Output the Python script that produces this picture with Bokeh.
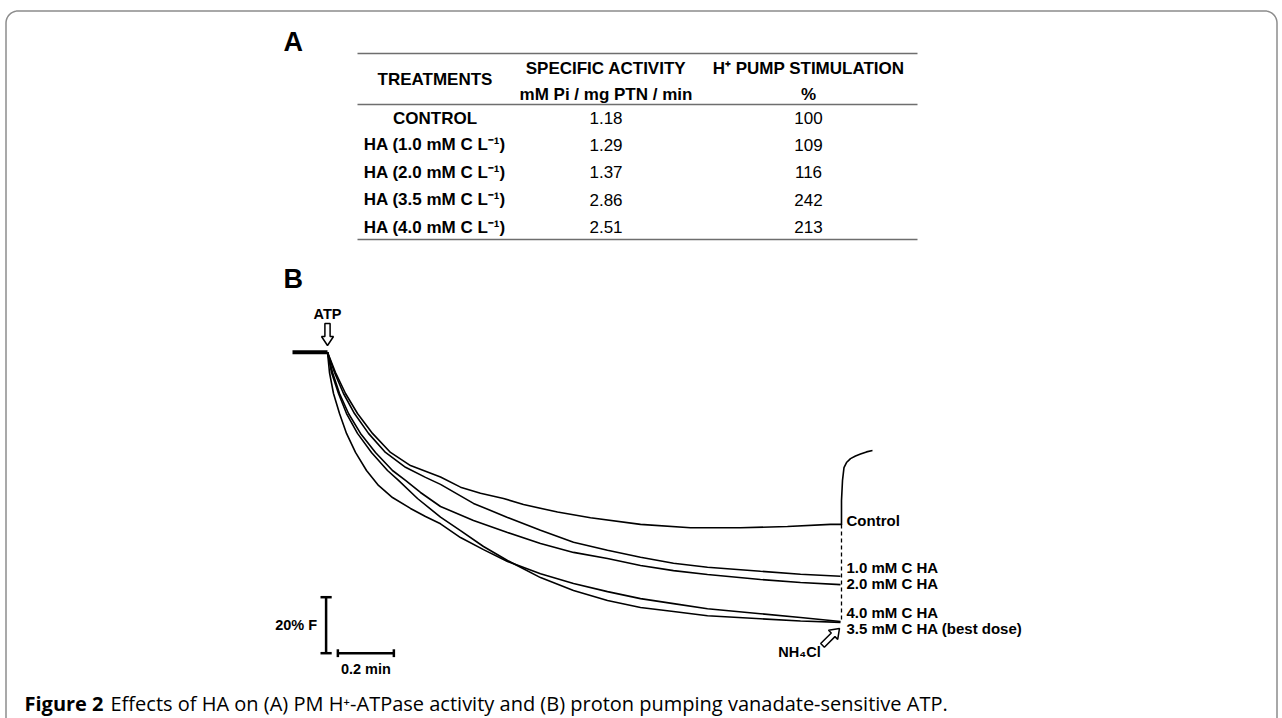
import numpy as np
from bokeh.plotting import figure
from bokeh.models import Range1d
from bokeh.core.properties import value
from bokeh.embed import file_html
from bokeh.resources import INLINE

# ---------------- data: table (panel A) ----------------
treatments = ["CONTROL", "HA (1.0 mM C L⁻¹)", "HA (2.0 mM C L⁻¹)",
              "HA (3.5 mM C L⁻¹)", "HA (4.0 mM C L⁻¹)"]
specific_activity = ["1.18", "1.29", "1.37", "2.86", "2.51"]
stimulation = ["100", "109", "116", "242", "213"]
header_1 = ["TREATMENTS", "SPECIFIC ACTIVITY", "H⁺ PUMP STIMULATION"]
header_2 = ["mM Pi / mg PTN / min", "%"]

# ---------------- data: traces (panel B), time in min, fluorescence in % ----------------
t_control = [0, 0.0286, 0.0643, 0.1071, 0.1607, 0.225, 0.2964, 0.4036, 0.475, 0.5464,
             0.6286, 0.70, 0.8214, 0.9393, 1.1179, 1.2964, 1.475, 1.6429, 1.7964, 1.8357]
f_control = [100, 92.75, 85.25, 78.1, 71.0, 64.2, 59.5, 55.4, 51.8, 49.6,
             47.75, 45.6, 42.9, 40.9, 38.5, 37.3, 37.3, 37.75, 38.5, 38.5]
# recovery of the control trace after NH4Cl addition
t_recovery = [1.8357, 1.8357, 1.8393, 1.8446, 1.8536, 1.8679, 1.8857, 1.9036, 1.925, 1.9464]
f_recovery = [38.3, 47.0, 54.2, 58.8, 60.6, 62.0, 62.9, 63.6, 64.4, 64.9]

t_ha10 = [0, 0.025, 0.0571, 0.0964, 0.1464, 0.2071, 0.2786, 0.35, 0.4036, 0.5214,
          0.6429, 0.7607, 0.8786, 1.0, 1.1179, 1.2357, 1.3571, 1.5464, 1.6893, 1.8321]
f_ha10 = [100, 92.75, 85.25, 78.1, 71.0, 64.2, 58.9, 55.3, 52.8, 46.0,
          41.0, 36.4, 32.1, 29.25, 26.75, 24.6, 23.2, 21.75, 20.7, 20.0]

t_ha20 = [0, 0.0179, 0.0429, 0.075, 0.1179, 0.1714, 0.2321, 0.2786, 0.3321, 0.4036, 0.5214,
          0.6429, 0.7607, 0.8786, 1.0, 1.1179, 1.2357, 1.3571, 1.5464, 1.6893, 1.8321]
f_ha20 = [100, 92.75, 85.25, 78.1, 71.0, 64.2, 57.75, 54.2, 49.9, 44.9, 39.9,
          35.6, 31.7, 28.5, 26.3, 23.8, 22.0, 20.6, 18.8, 17.75, 17.0]

t_ha35 = [0, 0.0143, 0.0393, 0.0679, 0.1071, 0.1571, 0.2143, 0.2536, 0.3214, 0.4036, 0.475,
          0.5571, 0.6429, 0.7607, 0.8786, 1.0, 1.1179, 1.2357, 1.3571, 1.5464, 1.6893, 1.8321]
f_ha35 = [100, 92.75, 85.25, 78.1, 71.0, 64.2, 57.75, 54.2, 47.75, 41.1, 36.3,
          30.6, 25.6, 19.5, 14.9, 11.3, 8.8, 7.4, 5.9, 4.8, 4.0, 3.5]

t_ha40 = [0, 0.0071, 0.0214, 0.0429, 0.0679, 0.1, 0.1393, 0.1821, 0.2321, 0.2964, 0.35, 0.4036,
          0.475, 0.5571, 0.6429, 0.7607, 0.8786, 1.0, 1.1179, 1.2357, 1.3571, 1.5464, 1.6893, 1.8321]
f_ha40 = [100, 92.75, 85.25, 78.1, 71.0, 64.2, 57.75, 52.4, 48.1, 44.2, 41.3, 38.7,
          33.8, 29.5, 25.25, 20.9, 17.4, 14.5, 12.0, 10.2, 8.4, 6.6, 5.25, 3.8]

trace_labels = ["Control", "1.0 mM C HA", "2.0 mM C HA", "4.0 mM C HA", "3.5 mM C HA (best dose)"]
t_atp = 0.0          # ATP addition
t_nh4cl = 1.8357     # NH4Cl addition
scale_f = 20         # % F scale bar
scale_t = 0.2        # min scale bar

# ---------------- figure in page-pixel coordinates ----------------
W, H = 1282, 718
p = figure(width=W, height=H, x_range=Range1d(0, W), y_range=Range1d(H, 0),
           output_backend="svg", toolbar_location=None, min_border=0,
           x_axis_location=None, y_axis_location=None)
p.grid.visible = False
p.outline_line_color = None
p.background_fill_color = "white"
p.border_fill_color = "white"

# data ranges for the traces: t = 0 at px 327, 280 px per min; F = 100 at px 351.7, 2.8 px per %
PX_T0, PX_PER_MIN = 327.0, 280.0
PY_F100, PX_PER_PCT = 351.7, 2.8
p.extra_x_ranges = {"t": Range1d((0 - PX_T0) / PX_PER_MIN, (W - PX_T0) / PX_PER_MIN)}
p.extra_y_ranges = {"f": Range1d(100 - (H - PY_F100) / PX_PER_PCT, 100 + PY_F100 / PX_PER_PCT)}

def tx(t):
    return PX_T0 + t * PX_PER_MIN

def fy(f):
    return PY_F100 - (f - 100) * PX_PER_PCT

# ---------------- rounded border ----------------
r = 12
L, R, T = 5.5, 1276.5, 10.5
a1 = np.linspace(np.pi, 1.5 * np.pi, 12)
a2 = np.linspace(1.5 * np.pi, 2 * np.pi, 12)
bx = [L] + list(L + r + r * np.cos(a1)) + list(R - r + r * np.cos(a2)) + [R]
by = [740] + list(T + r + r * np.sin(a1)) + list(T + r + r * np.sin(a2)) + [740]
p.line(bx, by, line_color="#8c8c8c", line_width=1.5)

ARIAL = value("Liberation Sans")
def txt(x, y, s, size, bold=True, align="left", font=ARIAL, color="black"):
    p.text(x=x, y=y, text=s, text_font=font, text_font_size=value(size),
           text_font_style="bold" if bold else "normal", text_align=align,
           text_baseline="middle", text_color=color)

# ---------------- panel A ----------------
txt([283], [41], ["A"], "27px")
txt([283], [278], ["B"], "27px")

for yy in (53, 104, 239):
    p.line([357, 917], [yy, yy], line_color="#6e6e6e", line_width=1.5)

txt([434.5], [79], [header_1[0]], "17px", align="center")
txt([605.5], [67.5], [header_1[1]], "17px", align="center")
txt([808], [67.5], [header_1[2]], "17px", align="center")
txt([605.5], [93.5], [header_2[0]], "17px", align="center")
txt([808], [93.5], [header_2[1]], "17px", align="center")

row_y = [117.7, 144, 171.5, 199, 226.7]
txt([434.5], [row_y[0]], [treatments[0]], "17px", align="center")
txt([363.3] * 4, row_y[1:], treatments[1:], "17px", align="left")
txt([605.5] * 5, row_y, specific_activity, "17px", bold=False, align="center")
txt([808] * 5, row_y, stimulation, "17px", bold=False, align="center")

# ---------------- panel B ----------------
kw = dict(x_range_name="t", y_range_name="f", line_color="black")
p.line([-0.125, t_atp], [100, 100], line_width=4, **kw)
for tt, ff in [(t_control, f_control), (t_ha10, f_ha10), (t_ha20, f_ha20),
               (t_ha35, f_ha35), (t_ha40, f_ha40), (t_recovery, f_recovery)]:
    p.line(tt, ff, line_width=1.6, **kw)

# NH4Cl dashed marker
p.line([t_nh4cl, t_nh4cl], [f_control[-1], f_ha35[-1]], line_width=1.3, line_dash="4 3", **kw)

# scale bars
sb_t = -0.005
sb_f0 = -7.5
p.line([sb_t, sb_t], [sb_f0, sb_f0 + scale_f], line_width=2.5, **kw)
p.line([sb_t - 0.02, sb_t + 0.02], [sb_f0 + scale_f] * 2, line_width=2.5, **kw)
p.line([sb_t - 0.02, sb_t + 0.02], [sb_f0] * 2, line_width=2.5, **kw)
h0 = 0.037
p.line([h0, h0 + scale_t], [sb_f0, sb_f0], line_width=2.5, **kw)
p.line([h0, h0], [sb_f0 - 1.4, sb_f0 + 1.4], line_width=2.5, **kw)
p.line([h0 + scale_t, h0 + scale_t], [sb_f0 - 1.4, sb_f0 + 1.4], line_width=2.5, **kw)

txt([tx(sb_t) - 9], [fy(sb_f0 + scale_f / 2)], ["20% F"], "14.5px", align="right")
txt([tx(h0 + scale_t / 2)], [668], ["0.2 min"], "14.5px", align="center")

# ATP arrow (hollow, pointing down)
ax = tx(t_atp)
txt([ax], [313], ["ATP"], "14.5px", align="center")
p.patch([ax - 2.6, ax + 2.6, ax + 2.6, ax + 6, ax, ax - 6, ax - 2.6],
        [323, 323, 336, 336, 345, 336, 336],
        fill_color="white", line_color="black", line_width=1.5)

# NH4Cl arrow (hollow, pointing up-right)
tip = np.array([tx(t_nh4cl) - 2, fy(f_ha35[-1]) + 6])
d = np.array([1.0, -1.0]) / np.sqrt(2)
nrm = np.array([-d[1], d[0]])
Ls, hl, sw, hw = 24, 9, 2.6, 6.5
pts = [tip - d * Ls + nrm * sw, tip - d * hl + nrm * sw, tip - d * hl + nrm * hw, tip,
       tip - d * hl - nrm * hw, tip - d * hl - nrm * sw, tip - d * Ls - nrm * sw]
p.patch([q[0] for q in pts], [q[1] for q in pts], fill_color="white", line_color="black", line_width=1.5)
txt([799], [651], ["NH₄Cl"], "14.5px", align="center")

# trace labels
lab_x = tx(t_nh4cl) + 5
txt([lab_x] * 5, [520, 567, 582.7, 611.7, 628.3], trace_labels, "15px", align="left")

# ---------------- caption ----------------
CAP = value("Open Sans")
txt([24], [703], ["Figure 2"], "20px", font=CAP)
txt([110], [703], ["Effects of HA on (A) PM H⁺-ATPase activity and (B) proton pumping vanadate-sensitive ATP."],
    "20px", bold=False, font=CAP)

open("out.html", "w").write(file_html(p, INLINE))
